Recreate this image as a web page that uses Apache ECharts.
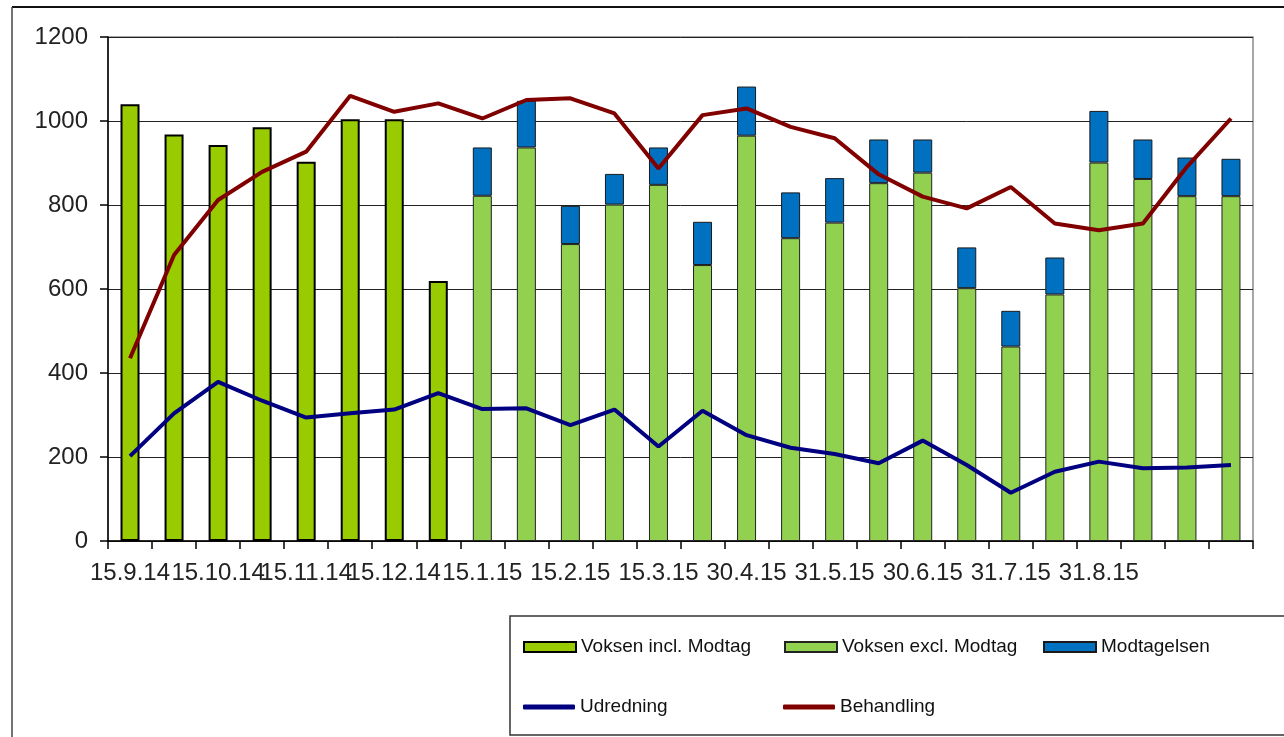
<!DOCTYPE html>
<html>
<head>
<meta charset="utf-8">
<script src="https://cdn.jsdelivr.net/npm/echarts@6/dist/echarts.min.js"></script>
<style>
html,body{margin:0;padding:0;background:#fff;}
#chart{width:1284px;height:737px;}
</style>
</head>
<body>
<div id="chart"></div>
<script>
// 26 half-monthly periods; every other one carries a tick label
const periods = ['1','2','3','4','5','6','7','8','9','10','11','12','13','14','15','16','17','18','19','20','21','22','23','24','25','26'];
const tickLabels = ['15.9.14','15.10.14','15.11.14','15.12.14','15.1.15','15.2.15','15.3.15','30.4.15','31.5.15','30.6.15','31.7.15','31.8.15'];

const voksenIncl = [1040, 968, 943, 985, 903, 1004, 1004, 619, '-', '-', '-', '-', '-', '-', '-', '-', '-', '-', '-', '-', '-', '-', '-', '-', '-', '-'];
const voksenExcl = ['-', '-', '-', '-', '-', '-', '-', '-', 822, 937, 707, 801, 848, 657, 965, 721, 758, 852, 877, 602, 463, 587, 901, 862, 821, 821];
const modtagelsen = ['-', '-', '-', '-', '-', '-', '-', '-', 115, 111, 91, 73, 89, 103, 117, 109, 106, 104, 79, 97, 85, 88, 123, 94, 92, 89];
const udredning = [202, 304, 379, 334, 294, 304, 313, 352, 314, 316, 276, 313, 225, 310, 252, 222, 207, 185, 239, 181, 115, 165, 189, 173, 175, 181];
const behandling = [435, 681, 812, 879, 927, 1060, 1022, 1042, 1006, 1050, 1054, 1018, 887, 1014, 1030, 986, 959, 873, 820, 792, 843, 756, 740, 756, 891, 1006];

const FONT = "'Liberation Sans', Arial, sans-serif";
const chart = echarts.init(document.getElementById('chart'), null, {renderer: 'canvas'});

const legendText = {fontFamily: FONT, fontSize: 19, color: '#111', width: 203, lineHeight: 20};

chart.setOption({
  animation: false,
  backgroundColor: '#ffffff',
  grid: {left: 108, right: 31, top: 37, bottom: 196, show: true, borderColor: '#8c8c8c', borderWidth: 1.5},
  graphic: [
    {type: 'line', shape: {x1: 12, y1: 7, x2: 1284, y2: 7}, style: {stroke: '#111', lineWidth: 2}, silent: true},
    {type: 'line', shape: {x1: 12, y1: 7, x2: 12, y2: 737}, style: {stroke: '#444', lineWidth: 1.5}, silent: true},
    {type: 'rect', shape: {x: 510, y: 616, width: 800, height: 119}, style: {fill: 'none', stroke: '#333', lineWidth: 1.5}, silent: true, z: -1}
  ],
  legend: [
    {
      data: ['Voksen incl. Modtag', 'Voksen excl. Modtag'],
      icon: 'rect',
      left: 523, top: 637, width: 600, padding: 0, itemGap: 0,
      itemWidth: 52, itemHeight: 10,
      textStyle: legendText
    },
    {
      data: ['Modtagelsen'],
      icon: 'rect',
      left: 1043, top: 637, padding: 0, itemGap: 0,
      itemWidth: 52, itemHeight: 10,
      textStyle: {fontFamily: FONT, fontSize: 19, color: '#111', lineHeight: 20}
    },
    {
      data: ['Udredning', 'Behandling'],
      icon: 'roundRect',
      left: 523, top: 697, width: 600, padding: 0, itemGap: 0,
      itemWidth: 52, itemHeight: 5,
      textStyle: legendText
    }
  ],
  xAxis: {
    type: 'category',
    data: periods,
    boundaryGap: true,
    axisLine: {lineStyle: {color: '#000', width: 1.5}},
    axisTick: {show: true, interval: 0, length: 8, lineStyle: {color: '#000', width: 1.5}},
    axisLabel: {
      interval: 1,
      margin: 20,
      fontFamily: FONT, fontSize: 24, color: '#222',
      formatter: function (v, i) { return tickLabels[i / 2] || ''; }
    },
    splitLine: {show: false}
  },
  yAxis: {
    type: 'value',
    min: 0, max: 1200, interval: 200,
    axisLine: {show: true, lineStyle: {color: '#000', width: 1.5}},
    axisTick: {show: true, length: 8, lineStyle: {color: '#000', width: 1.5}},
    axisLabel: {margin: 20, fontFamily: FONT, fontSize: 24, color: '#222', formatter: function (v) { return String(v); }},
    splitLine: {show: true, lineStyle: {color: '#222', width: 1}}
  },
  series: [
    {
      name: 'Voksen incl. Modtag', type: 'bar', stack: 'v', barWidth: 19,
      data: voksenIncl,
      itemStyle: {color: '#99CC00', borderColor: '#000', borderWidth: 2}
    },
    {
      name: 'Voksen excl. Modtag', type: 'bar', stack: 'v', barWidth: 19,
      data: voksenExcl,
      itemStyle: {color: '#92D050', borderColor: '#222', borderWidth: 1}
    },
    {
      name: 'Modtagelsen', type: 'bar', stack: 'v', barWidth: 19,
      data: modtagelsen,
      itemStyle: {color: '#0070C0', borderColor: '#1a1a1a', borderWidth: 1}
    },
    {
      name: 'Udredning', type: 'line', data: udredning,
      symbol: 'none', lineStyle: {color: '#000080', width: 4},
      itemStyle: {color: '#000080'}, z: 5
    },
    {
      name: 'Behandling', type: 'line', data: behandling,
      symbol: 'none', lineStyle: {color: '#800000', width: 4},
      itemStyle: {color: '#800000'}, z: 5
    }
  ]
});
</script>
</body>
</html>
